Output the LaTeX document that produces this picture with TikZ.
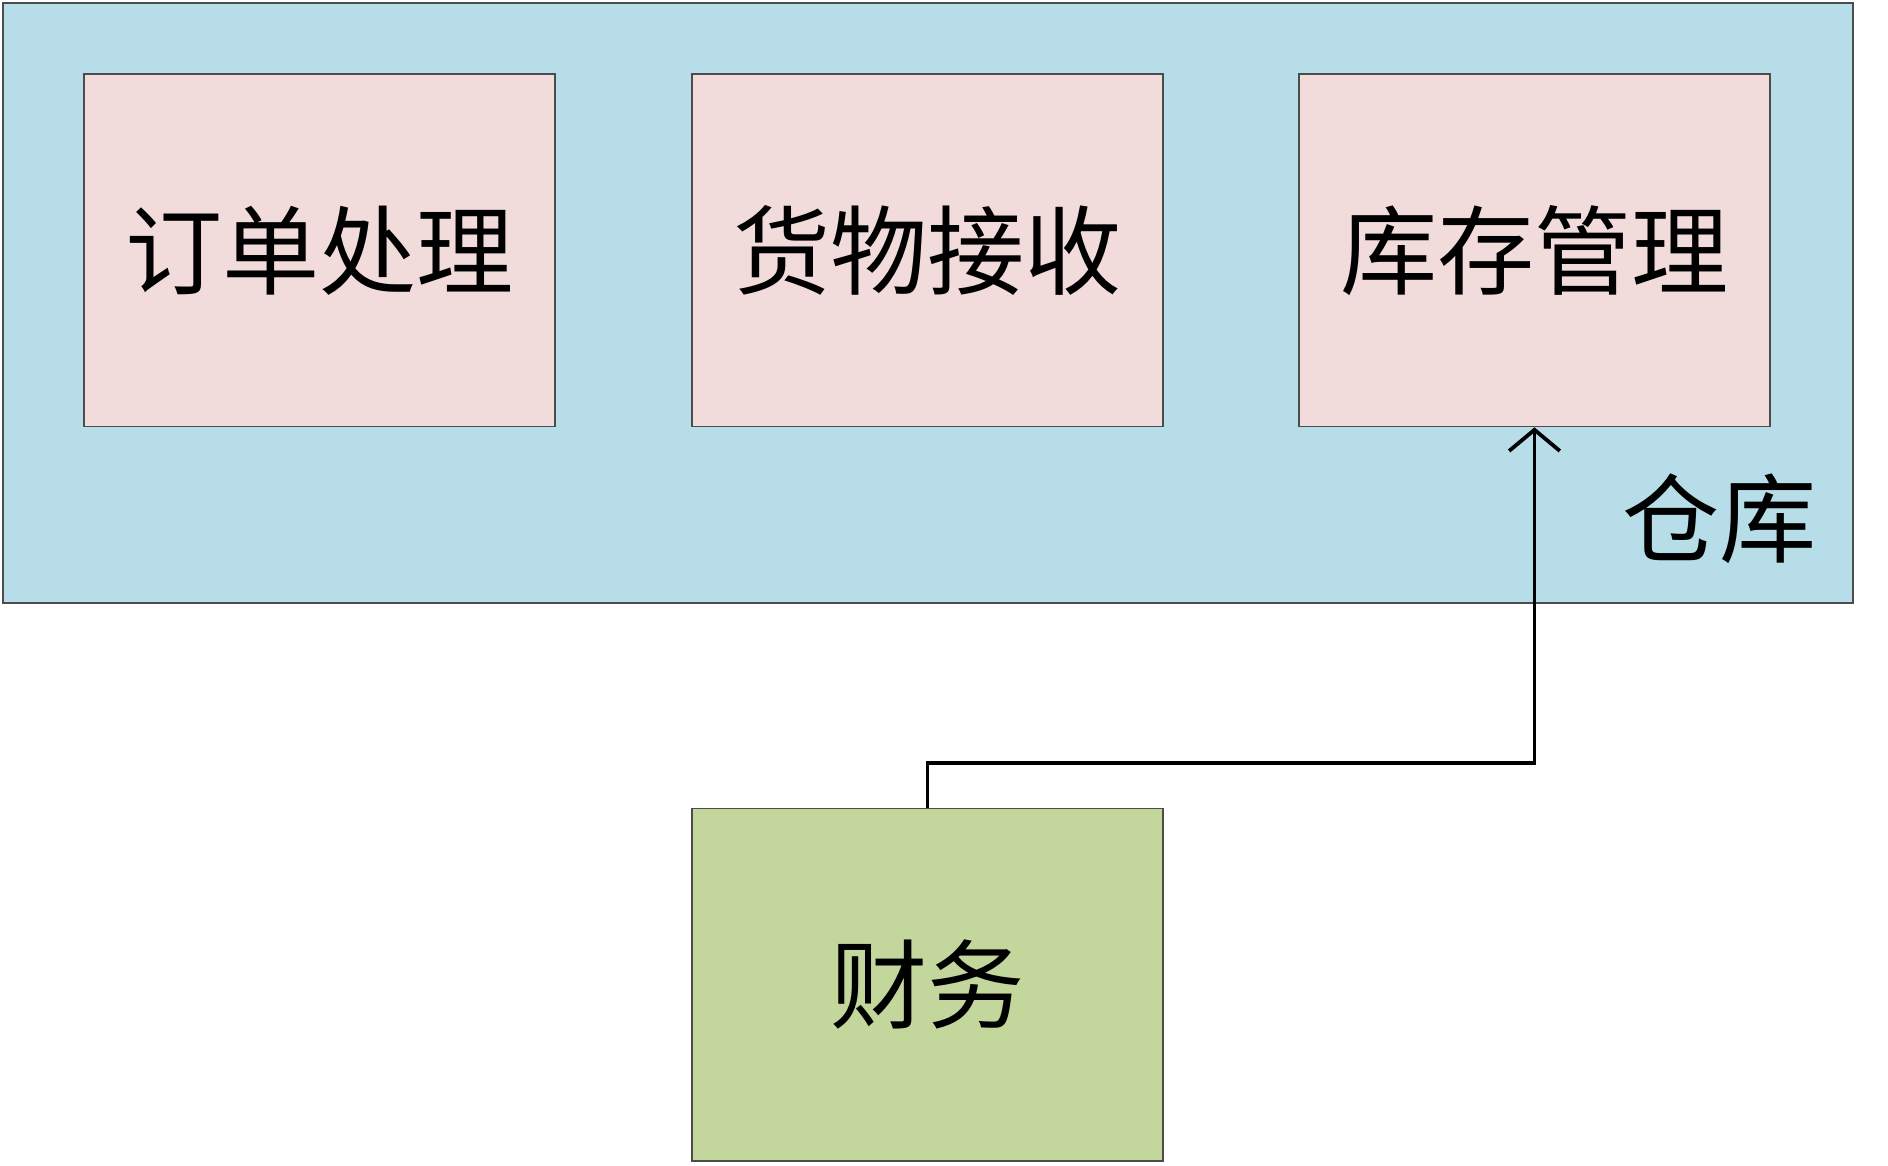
\documentclass[tikz,border=0pt]{standalone}
\usepackage{fontspec}
\usetikzlibrary{arrows.meta}
\newfontfamily\cjk{Noto Sans CJK SC}
\definecolor{wh}{HTML}{B7DDE8}
\definecolor{pk}{HTML}{F2DCDB}
\definecolor{gr}{HTML}{C3D69B}
\begin{document}
\begin{tikzpicture}[x=0.01cm,y=-0.01cm,
  box/.style={draw=black!70,line width=0.4pt,minimum width=3.92cm,minimum height=2.93cm,font=\cjk\fontsize{23}{26}\selectfont},
  conn/.style={draw,line width=0.9pt,-{Straight Barb[length=5pt,width=12pt]}}]
\useasboundingbox (0,0) rectangle (1571,970);
\node[draw=black!70,fill=wh,minimum width=15.38cm,minimum height=4.99cm,anchor=north west] (wh) at (2,2) {};
\node[font=\cjk\fontsize{23}{26}\selectfont,anchor=east] (whl) at (1524,432) {仓库};
\node[box,fill=pk,anchor=north west] (a) at (69,61) {订单处理};
\node[box,fill=pk,anchor=north west] (b) at (575,61) {货物接收};
\node[box,fill=pk,anchor=north west] (c) at (1080,61) {库存管理};
\node[box,fill=gr,anchor=north west] (f) at (575,672) {财务};
\draw[conn] (f.north) -- ++(0,-37) -| (c.south);
\end{tikzpicture}
\end{document}
